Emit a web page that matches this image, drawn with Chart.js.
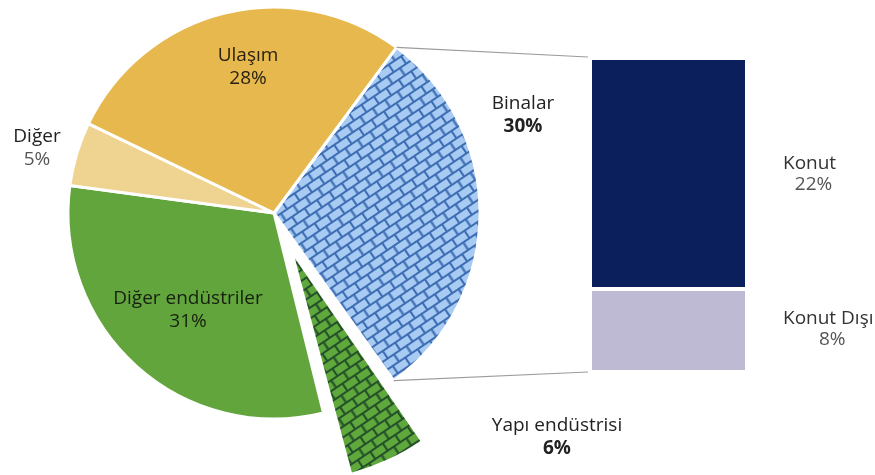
<!DOCTYPE html>
<html>
<head>
<meta charset="utf-8">
<script src="https://cdn.jsdelivr.net/npm/chart.js@4.4.1/dist/chart.umd.min.js"></script>
<style>
  body { margin: 0; background: #fff; }
  #wrap { position: relative; width: 875px; height: 475px; }
  #wrap canvas { position: absolute; left: 0; top: 0; }
</style>
</head>
<body>
<div id="wrap">
  <canvas id="pie" width="875" height="475"></canvas>
  <canvas id="bar" width="875" height="475"></canvas>
</div>
<script>
// Sektörlere göre pay (%)
var categories = ["Binalar", "Yapı endüstrisi", "Diğer endüstriler", "Diğer", "Ulaşım"];
var shares = [30, 6, 31, 5, 28];

// Binalar kırılımı (%), alttan üste
var buildingParts = ["Konut Dışı", "Konut"];
var buildingShares = [8, 22];

var FONT = "'Open Sans', sans-serif";
var FS = 19;

// Tuğla deseni
function brickPattern(bg, line) {
  var t = document.createElement("canvas");
  t.width = 15;
  t.height = 18;
  var c = t.getContext("2d");
  c.fillStyle = bg;
  c.fillRect(0, 0, 15, 18);
  c.strokeStyle = line;
  c.lineWidth = 2.2;
  c.beginPath();
  c.moveTo(0, 1); c.lineTo(15, 1);
  c.moveTo(0, 10); c.lineTo(15, 10);
  c.moveTo(1, 1); c.lineTo(1, 10);
  c.moveTo(8.5, 10); c.lineTo(8.5, 18);
  c.stroke();
  var p = c.createPattern(t, "repeat");
  p.setTransform(new DOMMatrix().rotate(-34));
  return p;
}

var pieColors = [
  brickPattern("#a8cbf4", "#3d6db2"),
  brickPattern("#5fa83b", "#24502a"),
  "#63a53d",
  "#efd491",
  "#e6b84e",
];

// etiket konumları (pasta merkezine göre)
var pieLabelPos = [[249, -98], [283, 224], [-86, 97], [-237, -65], [-26, -146]];
var pieLabelColor = ["#222", "#222", "#15200f", "#222", "#2a2210"];
var pctColor = ["#222", "#222", "#15200f", "#555", "#2a2210"];
var pctBold = [true, true, false, false, false];

var pieLabels = {
  id: "pieLabels",
  afterDatasetsDraw: function (chart) {
    var ctx = chart.ctx;
    var arcs = chart.getDatasetMeta(0).data;
    var cx = arcs[0].x, cy = arcs[0].y;
    ctx.save();
    ctx.textAlign = "center";
    ctx.textBaseline = "middle";
    categories.forEach(function (name, i) {
      var x = cx + pieLabelPos[i][0];
      var y = cy + pieLabelPos[i][1];
      ctx.font = FS + "px " + FONT;
      ctx.fillStyle = pieLabelColor[i];
      ctx.fillText(name, x, y - 11.5);
      ctx.font = (pctBold[i] ? "bold " : "") + FS + "px " + FONT;
      ctx.fillStyle = pctColor[i];
      ctx.fillText(shares[i] + "%", x, y + 11.5);
    });
    ctx.restore();
  },
};

var pieChart = new Chart(document.getElementById("pie"), {
  type: "pie",
  data: {
    labels: categories,
    datasets: [
      {
        data: shares,
        backgroundColor: pieColors,
        borderColor: "#ffffff",
        borderWidth: 3,
        offset: [0, 164, 0, 0, 0],
        clip: false,
      },
    ],
  },
  options: {
    responsive: false,
    animation: false,
    radius: 206,
    rotation: 36.5,
    layout: { padding: { left: 0, top: 0, right: 327, bottom: 49 } },
    plugins: { legend: { display: false }, tooltip: { enabled: false } },
    events: [],
  },
  plugins: [pieLabels],
});

// Bağlantı çizgileri ve çubuk etiketleri
var barExtras = {
  id: "barExtras",
  afterDatasetsDraw: function (chart) {
    var ctx = chart.ctx;
    var arc = pieChart.getDatasetMeta(0).data[0];
    var r = arc.outerRadius;
    var lower = chart.getDatasetMeta(0).data[0];
    var upper = chart.getDatasetMeta(1).data[0];
    var left = upper.x - upper.width / 2 - 4;

    ctx.save();
    ctx.strokeStyle = "#9c9c9c";
    ctx.lineWidth = 1.2;
    ctx.beginPath();
    ctx.moveTo(arc.x + r * Math.cos(arc.startAngle), arc.y + r * Math.sin(arc.startAngle));
    ctx.lineTo(left, upper.y - 3);
    ctx.moveTo(arc.x + r * Math.cos(arc.endAngle), arc.y + r * Math.sin(arc.endAngle));
    ctx.lineTo(left, lower.base + 2);
    ctx.stroke();

    ctx.textBaseline = "middle";
    ctx.textAlign = "center";
    [lower, upper].forEach(function (bar, i) {
      var midY = (bar.y + bar.base) / 2;
      var x0 = bar.x + bar.width / 2 + 38;
      ctx.font = FS + "px " + FONT;
      var w = ctx.measureText(buildingParts[i]).width;
      ctx.fillStyle = "#333";
      ctx.fillText(buildingParts[i], x0 + w / 2, midY - 10);
      ctx.fillStyle = "#555";
      ctx.fillText(buildingShares[i] + "%", x0 + w / 2 + 4, midY + 11);
    });
    ctx.restore();
  },
};

new Chart(document.getElementById("bar"), {
  type: "bar",
  data: {
    labels: ["Binalar"],
    datasets: [
      {
        label: buildingParts[0],
        data: [buildingShares[0]],
        backgroundColor: "#bfbad4",
        borderColor: "#ffffff",
        borderWidth: { top: 4, left: 0, right: 0, bottom: 0 },
        borderSkipped: false,
      },
      {
        label: buildingParts[1],
        data: [buildingShares[1]],
        backgroundColor: "#0b1f5c",
        borderWidth: 0,
      },
    ],
  },
  options: {
    responsive: false,
    animation: false,
    layout: { padding: { left: 592, top: 60, right: 130, bottom: 105 } },
    datasets: { bar: { barPercentage: 1, categoryPercentage: 1 } },
    scales: {
      x: { display: false, stacked: true },
      y: { display: false, stacked: true, min: 0, max: 30 },
    },
    plugins: { legend: { display: false }, tooltip: { enabled: false } },
    events: [],
  },
  plugins: [barExtras],
});
</script>
</body>
</html>
